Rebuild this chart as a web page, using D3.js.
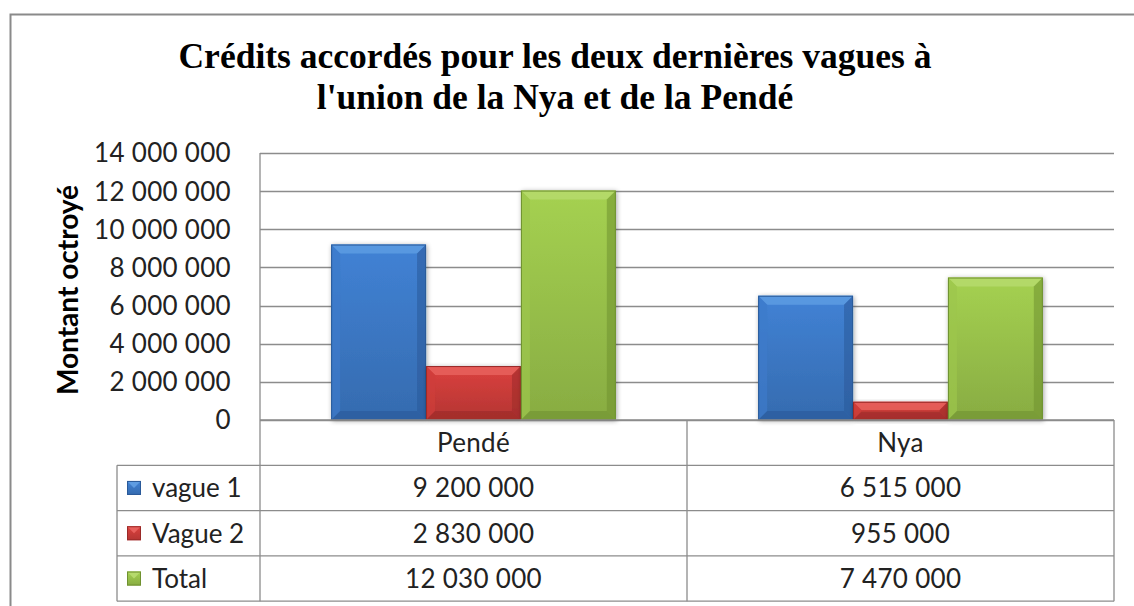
<!DOCTYPE html>
<html>
<head>
<meta charset="utf-8">
<script src="https://cdn.jsdelivr.net/npm/d3@7"></script>
<style>
  html,body{margin:0;padding:0;background:#fff;}
  svg{display:block;}
</style>
</head>
<body>
<svg id="chart" width="1134" height="606"></svg>
<script>
// ---- data ----
const categories = ["Pendé", "Nya"];
const seriesNames = ["vague 1", "Vague 2", "Total"];
const vague1 = [9200000, 6515000];
const vague2 = [2830000, 955000];
const total = [12030000, 7470000];
const yTicks = [0, 2000000, 4000000, 6000000, 8000000, 10000000, 12000000, 14000000];
const titleLines = ["Crédits accordés pour les deux dernières vagues à", "l'union de la Nya et de la Pendé"];
const yTitle = "Montant octroyé";

const seriesValues = [vague1, vague2, total];
const palette = [
  {base:"#3b77c3", light:"#5e9ce2", dark:"#2a5a99"},
  {base:"#c83b39", light:"#e8605d", dark:"#9a2a28"},
  {base:"#97bf4a", light:"#b6da6c", dark:"#6f9130"}
];

const svg = d3.select("#chart");
const fr = d3.formatLocale({decimal: ",", thousands: " ", grouping: [3], currency: ["", ""]});
const fmt = fr.format(",d");

// layout
const L = 260, R = 1114, T = 153, B = 420;
const tableLeft = 117;
const rowH = 45.3;
const font = "Lato, 'Open Sans', sans-serif";
const fs = 26;

const x0 = d3.scaleBand().domain(categories).range([L, R]).paddingInner(0).paddingOuter(0);
const x1 = d3.scaleBand().domain(seriesNames).range([0, x0.bandwidth()]).paddingInner(0).paddingOuter(0.75);
const y = d3.scaleLinear().domain([0, 14000000]).range([B, T]);

// defs: gradients
const defs = svg.append("defs");
palette.forEach((p, i) => {
  const g = defs.append("linearGradient").attr("id", "g" + i).attr("x1", 0).attr("y1", 0).attr("x2", 0).attr("y2", 1);
  g.append("stop").attr("offset", "0%").attr("stop-color", d3.color(p.base).brighter(0.25));
  g.append("stop").attr("offset", "100%").attr("stop-color", d3.color(p.base).darker(0.3));
});
const sh = defs.append("filter").attr("id", "shadow").attr("x", "-20%").attr("y", "-20%").attr("width", "140%").attr("height", "140%");
sh.append("feGaussianBlur").attr("in", "SourceAlpha").attr("stdDeviation", 2.5).attr("result", "b");
sh.append("feOffset").attr("in", "b").attr("dx", 1).attr("dy", 1).attr("result", "o");
sh.append("feComponentTransfer").attr("in", "o").attr("result", "o2").append("feFuncA").attr("type", "linear").attr("slope", 0.35);
const mg = sh.append("feMerge");
mg.append("feMergeNode").attr("in", "o2");
mg.append("feMergeNode").attr("in", "SourceGraphic");

// outer border
svg.append("path").attr("d", "M10.5,606 L10.5,14.5 L1134,14.5").attr("fill", "none").attr("stroke", "#8a8a8a").attr("stroke-width", 2);

// title
const title = svg.append("text").attr("x", 555).attr("y", 68).attr("text-anchor", "middle")
  .attr("font-family", "'Liberation Serif', 'Times New Roman', serif").attr("font-weight", "bold").attr("font-size", 35.5).attr("fill", "#000");
titleLines.forEach((t, i) => title.append("tspan").attr("x", 555).attr("dy", i === 0 ? 0 : 41).text(t));

// gridlines
svg.append("g").selectAll("line").data(yTicks).join("line")
  .attr("x1", L).attr("x2", R).attr("y1", d => Math.round(y(d)) + 0.5).attr("y2", d => Math.round(y(d)) + 0.5)
  .attr("stroke", "#8c8c8c").attr("stroke-width", 1.3);

// y tick labels
svg.append("g").selectAll("text").data(yTicks).join("text")
  .attr("x", 231).attr("y", d => y(d)).attr("dy", "0.36em").attr("text-anchor", "end")
  .attr("font-family", font).attr("font-size", fs).attr("letter-spacing", 0.3).attr("fill", "#222")
  .text(d => fmt(d));

// y title
svg.append("text").attr("transform", "translate(78,290) rotate(-90)").attr("text-anchor", "middle")
  .attr("font-family", font).attr("font-weight", "bold").attr("font-size", 28).attr("fill", "#000")
  .text(yTitle);

// bars with bevel
function bevelBar(g, bx0, bx1, by0, by1, p, gi) {
  const w = bx1 - bx0, h = by1 - by0;
  const b = Math.min(9, h / 2.2, w / 2.2);
  const grp = g.append("g").attr("filter", "url(#shadow)");
  grp.append("rect").attr("x", bx0).attr("y", by0).attr("width", w).attr("height", h).attr("fill", "url(#g" + gi + ")");
  grp.append("path").attr("d", `M${bx0},${by0} L${bx1},${by0} L${bx1 - b},${by0 + b} L${bx0 + b},${by0 + b} Z`).attr("fill", p.light).attr("opacity", 0.85);
  grp.append("path").attr("d", `M${bx0},${by0} L${bx0 + b},${by0 + b} L${bx0 + b},${by1 - b} L${bx0},${by1} Z`).attr("fill", d3.color(p.base).brighter(0.1)).attr("opacity", 0.7);
  grp.append("path").attr("d", `M${bx1},${by0} L${bx1},${by1} L${bx1 - b},${by1 - b} L${bx1 - b},${by0 + b} Z`).attr("fill", p.dark).attr("opacity", 0.55);
  grp.append("path").attr("d", `M${bx0},${by1} L${bx0 + b},${by1 - b} L${bx1 - b},${by1 - b} L${bx1},${by1} Z`).attr("fill", p.dark).attr("opacity", 0.6);
  grp.append("rect").attr("x", bx0 + 0.5).attr("y", by0 + 0.5).attr("width", w - 1).attr("height", h - 1).attr("fill", "none").attr("stroke", p.dark).attr("stroke-width", 1);
}

const barsG = svg.append("g");
categories.forEach((c, ci) => {
  seriesNames.forEach((s, si) => {
    const v = seriesValues[si][ci];
    const bx0 = x0(c) + x1(s);
    bevelBar(barsG, bx0, bx0 + x1.bandwidth(), y(v), y(0), palette[si], si);
  });
});

// data table
const tbl = svg.append("g").attr("stroke", "#8c8c8c").attr("stroke-width", 1.3).attr("fill", "none");
const rows = [B, B + rowH, B + 2 * rowH, B + 3 * rowH, B + 4 * rowH];
rows.forEach((ry, i) => {
  tbl.append("line").attr("x1", i === 0 ? L : tableLeft).attr("x2", R).attr("y1", ry).attr("y2", ry);
});
tbl.append("line").attr("x1", L).attr("x2", L).attr("y1", T).attr("y2", rows[4]);
tbl.append("line").attr("x1", tableLeft).attr("x2", tableLeft).attr("y1", rows[1]).attr("y2", rows[4]);
tbl.append("line").attr("x1", x0("Nya")).attr("x2", x0("Nya")).attr("y1", B).attr("y2", rows[4]);
tbl.append("line").attr("x1", R).attr("x2", R).attr("y1", B).attr("y2", rows[4]);

// category labels
svg.append("g").selectAll("text").data(categories).join("text")
  .attr("x", d => x0(d) + x0.bandwidth() / 2).attr("y", B + rowH / 2).attr("dy", "0.36em")
  .attr("text-anchor", "middle").attr("font-family", font).attr("font-size", fs).attr("letter-spacing", 0.3).attr("fill", "#222").text(d => d);

// series rows
seriesNames.forEach((s, si) => {
  const cy = rows[si + 1] + rowH / 2;
  const p = palette[si];
  const k = 14, kx = 127, ky = cy - k / 2;
  const kg = svg.append("g");
  kg.append("rect").attr("x", kx).attr("y", ky).attr("width", k).attr("height", k).attr("fill", "url(#g" + si + ")");
  kg.append("path").attr("d", `M${kx},${ky} L${kx + k},${ky} L${kx + k / 2},${ky + k / 2} Z`).attr("fill", p.light);
  kg.append("rect").attr("x", kx + 0.5).attr("y", ky + 0.5).attr("width", k - 1).attr("height", k - 1).attr("fill", "none").attr("stroke", p.dark);
  svg.append("text").attr("x", 152).attr("y", cy).attr("dy", "0.36em").attr("font-family", font).attr("font-size", fs).attr("fill", "#222").text(s);
  categories.forEach((c, ci) => {
    svg.append("text").attr("x", x0(c) + x0.bandwidth() / 2).attr("y", cy).attr("dy", "0.36em")
      .attr("text-anchor", "middle").attr("font-family", font).attr("font-size", fs).attr("letter-spacing", 0.3).attr("fill", "#222")
      .text(fmt(seriesValues[si][ci]));
  });
});
</script>
</body>
</html>
